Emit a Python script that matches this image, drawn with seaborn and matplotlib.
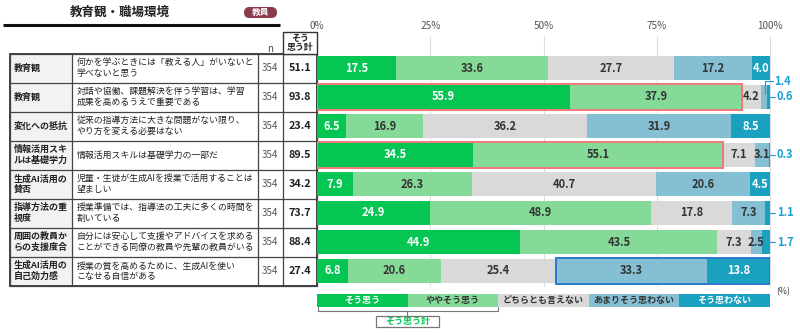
import pandas as pd
import matplotlib
matplotlib.use("Agg")
import matplotlib.pyplot as plt
import seaborn as sns
from matplotlib.patches import Rectangle, FancyBboxPatch

sns.set_style("white")
plt.rcParams["font.family"] = ["Noto Sans CJK JP", "DejaVu Sans"]

# ---- data ----
categories = ["そう思う", "ややそう思う", "どちらとも言えない", "あまりそう思わない", "そう思わない"]
colors = ["#05C553", "#85DA98", "#D9D9D9", "#85BFD3", "#1AA1C0"]
text_colors = ["white", "#333333", "#333333", "#333333", "white"]

topics = ["教育観", "教育観", "変化への抵抗", "情報活用スキ\nルは基礎学力", "生成AI活用の\n賛否",
          "指導方法の重\n視度", "周囲の教員か\nらの支援度合", "生成AI活用の\n自己効力感"]
questions = [
    "何かを学ぶときには「教える人」がいないと\n学べないと思う",
    "対話や協働、課題解決を伴う学習は、学習\n成果を高めるうえで重要である",
    "従来の指導方法に大きな問題がない限り、\nやり方を変える必要はない",
    "情報活用スキルは基礎学力の一部だ",
    "児童・生徒が生成AIを授業で活用することは\n望ましい",
    "授業準備では、指導法の工夫に多くの時間を\n割いている",
    "自分には安心して支援やアドバイスを求める\nことができる同僚の教員や先輩の教員がいる",
    "授業の質を高めるために、生成AIを使い\nこなせる自信がある",
]
n_values = [354, 354, 354, 354, 354, 354, 354, 354]
agree_total = [51.1, 93.8, 23.4, 89.5, 34.2, 73.7, 88.4, 27.4]

strongly_agree = [17.5, 55.9, 6.5, 34.5, 7.9, 24.9, 44.9, 6.8]
somewhat_agree = [33.6, 37.9, 16.9, 55.1, 26.3, 48.9, 43.5, 20.6]
neutral = [27.7, 4.2, 36.2, 7.1, 40.7, 17.8, 7.3, 25.4]
somewhat_disagree = [17.2, 1.4, 31.9, 3.1, 20.6, 7.3, 2.5, 33.3]
disagree = [4.0, 0.6, 8.5, 0.3, 4.5, 1.1, 1.7, 13.8]

series = [strongly_agree, somewhat_agree, neutral, somewhat_disagree, disagree]
row_ids = [f"r{i}" for i in range(len(topics))]

df = pd.DataFrame({"row": row_ids})
for cat, vals in zip(categories, series):
    df[cat] = vals
cum = df[categories].cumsum(axis=1)

# ---- figure ----
W, H = 800, 336
fig = plt.figure(figsize=(8, 3.36), dpi=100)
ov = fig.add_axes([0, 0, 1, 1])
ov.set_xlim(0, W)
ov.set_ylim(H, 0)
ov.axis("off")

# title + badge
ov.text(120, 12, "教育観・職場環境", fontsize=9, fontweight="bold", ha="center", va="center", color="#222222")
ov.plot([3, 280], [24.5, 24.5], color="#111111", lw=2.2, solid_capstyle="butt")
ov.add_patch(FancyBboxPatch((244, 7), 33, 11, boxstyle="round,pad=0,rounding_size=5.5",
                            fc="#8C3B4B", ec="none"))
ov.text(260.5, 12.7, "教員", fontsize=6.3, fontweight="bold", color="white", ha="center", va="center")

# table
x0, x1, x2, x3, x4 = 9.5, 72, 257.5, 283, 317
top, rh = 53.5, 29.0
nrows = len(topics)
bottom = top + rh * nrows
for i in range(nrows):
    y = top + rh * i
    ov.add_patch(Rectangle((x0, y), x1 - x0, rh, fc="#F2F2F2", ec="none"))
    yc = y + rh / 2
    ov.text(x0 + 4, yc, topics[i], fontsize=6.5, fontweight="bold", va="center", ha="left",
            color="#222222", linespacing=1.2)
    ov.text(x1 + 4.5, yc, questions[i], fontsize=6.4, va="center", ha="left", color="#222222",
            linespacing=1.2)
    ov.text((x2 + x3) / 2, yc, str(n_values[i]), fontsize=7, va="center", ha="center", color="#555555")
    ov.text((x3 + x4) / 2, yc, f"{agree_total[i]:.1f}", fontsize=7.8, fontweight="bold",
            va="center", ha="center", color="#222222")
for i in range(nrows + 1):
    y = top + rh * i
    ov.plot([x0, x4], [y, y], color="#444444", lw=0.9)
for x in [x0, x1, x2, x3, x4]:
    ov.plot([x, x], [top, bottom], color="#444444", lw=0.9)
ov.add_patch(Rectangle((x0, top), x4 - x0, bottom - top, fc="none", ec="#333333", lw=1.3))
# header
ov.add_patch(Rectangle((x3, 32), x4 - x3, top - 32, fc="white", ec="#333333", lw=1.0, zorder=4))
ov.text((x3 + x4) / 2, 43, "そう\n思う計", fontsize=6.4, fontweight="bold", ha="center", va="center",
        linespacing=1.0, color="#222222", zorder=5)
ov.text((x2 + x3) / 2, 48.5, "n", fontsize=7, ha="center", va="center", color="#444444")

# ---- bar axes ----
bl, br = 317, 770
ax = fig.add_axes([bl / W, 1 - bottom / H, (br - bl) / W, (bottom - top) / H])
ax.set_facecolor("none")
for j in range(len(categories) - 1, -1, -1):
    sns.barplot(x=cum[categories[j]], y=df["row"], orient="h", color=colors[j], saturation=1,
                width=0.84, errorbar=None, ax=ax, zorder=3, linewidth=0)
ax.set_xlim(0, 100)
ax.set_ylim(nrows - 0.5, -0.5)
for xv in [25, 50, 75, 100]:
    ax.plot([xv, xv], [nrows - 0.5, -1.1], color="#DDDDDD", lw=0.8, zorder=1, clip_on=False)
for xv, lab in zip([0, 25, 50, 75, 100], ["0%", "25%", "50%", "75%", "100%"]):
    ax.text(xv, -1.45, lab, fontsize=7.2, color="#555555", ha="center", va="center")
ax.set_xticks([])
ax.set_yticks([])
ax.set_xlabel("")
ax.set_ylabel("")
for s in ax.spines.values():
    s.set_visible(False)

# segment labels
outside = {}
for i in range(nrows):
    left = 0
    for j in range(len(categories)):
        v = series[j][i]
        if v >= 2:
            ax.text(left + v / 2, i, f"{v:.1f}", fontsize=8, fontweight="bold", color=text_colors[j],
                    ha="center", va="center", zorder=5)
        else:
            outside.setdefault(i, []).append(v)
        left += v

lab_col = "#1A9FD0"
for i, vals in outside.items():
    if len(vals) == 2:
        ax.plot([98.9, 98.9, 100.7], [i - 0.1, i - 0.55, i - 0.55], color=lab_col, lw=0.8,
                clip_on=False, zorder=6)
        ax.text(101, i - 0.55, f"{vals[0]:.1f}", fontsize=8, fontweight="bold", color=lab_col,
                va="center", ha="left")
        ax.plot([100, 101.2], [i, i], color=lab_col, lw=0.8, clip_on=False)
        ax.text(101.5, i, f"{vals[1]:.1f}", fontsize=8, fontweight="bold", color=lab_col,
                va="center", ha="left")
    else:
        ax.plot([100, 101.2], [i, i], color=lab_col, lw=0.8, clip_on=False)
        ax.text(101.5, i, f"{vals[0]:.1f}", fontsize=8, fontweight="bold", color=lab_col,
                va="center", ha="left")

# highlight boxes
for i in [1, 3]:
    tot = strongly_agree[i] + somewhat_agree[i]
    ax.add_patch(Rectangle((0, i - 0.44), tot, 0.88, fc="none", ec="#F07878", lw=1.4, zorder=6))
i = 7
start = strongly_agree[i] + somewhat_agree[i] + neutral[i]
ax.add_patch(Rectangle((start, i - 0.44), 100 - start, 0.88, fc="none", ec="#2C78CC", lw=1.4, zorder=6))

ax.text(101.3, nrows - 0.3, "(%)", fontsize=6.3, color="#333333", va="center", ha="left")

# ---- legend ----
lw_ = (br - bl) / len(categories)
for j, cat in enumerate(categories):
    ov.add_patch(Rectangle((bl + j * lw_, 294), lw_, 13, fc=colors[j], ec="none"))
    ov.text(bl + j * lw_ + lw_ / 2, 300.5, cat, fontsize=6.5, fontweight="bold",
            color=text_colors[j], ha="center", va="center")
bx_r = bl + 2 * lw_
ov.plot([bl + 0.5, bl + 0.5, bx_r, bx_r], [307, 311, 311, 307], color="#777777", lw=0.8)
ov.plot([(bl + bx_r) / 2 - 0.5] * 2, [311, 316], color="#777777", lw=0.8)
ov.add_patch(Rectangle((376, 316), 63, 11, fc="white", ec="#777777", lw=0.9))
ov.text(407.5, 321.5, "そう思う計", fontsize=6.5, fontweight="bold", color="#05C553", ha="center", va="center")

fig.savefig("out.png", dpi=100)
